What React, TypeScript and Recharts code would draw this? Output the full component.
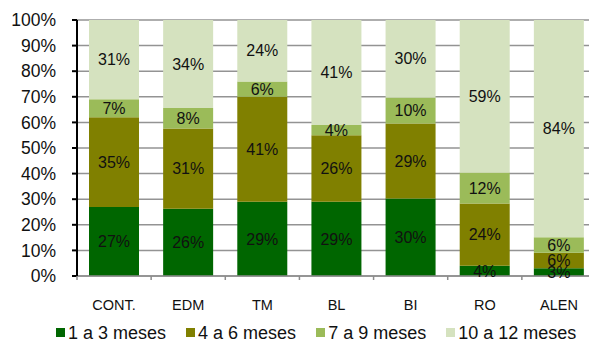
import React from "react"
import { BarChart, Bar, XAxis, YAxis, CartesianGrid, Legend, LabelList } from "recharts"

const categories = ["CONT.", "EDM", "TM", "BL", "BI", "RO", "ALEN"]
const meses1a3 = [27, 26, 29, 29, 30, 4, 3]
const meses4a6 = [35, 31, 41, 26, 29, 24, 6]
const meses7a9 = [7, 8, 6, 4, 10, 12, 6]
const meses10a12 = [31, 34, 24, 41, 30, 59, 84]
const yTicks = [0, 10, 20, 30, 40, 50, 60, 70, 80, 90, 100]

const series = [
  { key: "m1", name: "1 a 3 meses", color: "#006600", values: meses1a3 },
  { key: "m2", name: "4 a 6 meses", color: "#808000", values: meses4a6 },
  { key: "m3", name: "7 a 9 meses", color: "#9BBB59", values: meses7a9 },
  { key: "m4", name: "10 a 12 meses", color: "#D5E2BF", values: meses10a12 },
]

const data = categories.map((name, i) => {
  const row: Record<string, string | number> = { name }
  series.forEach((s) => (row[s.key] = s.values[i]))
  return row
})

const CHART_W = 600
const CHART_H = 343
const LEFT = 77
const RIGHT = 4
const STEP = (CHART_W - LEFT - RIGHT) / categories.length
const FONT = "'Liberation Sans', Arial, sans-serif"

function XTick(props: any) {
  const { x, y, payload } = props
  const bx = x - STEP / 2
  return (
    <g>
      <line x1={bx} x2={bx} y1={y} y2={y + 4} stroke="#8c8c8c" strokeWidth={1.5} />
      <text x={x} y={y + 34} textAnchor="middle" fontSize={14.5} fill="#111" fontFamily={FONT}>
        {payload.value}
      </text>
    </g>
  )
}

// legend drawn from our own series list so the order stays as in the source
function LegendContent() {
  return (
    <div style={{ height: 27, paddingTop: 6, boxSizing: "border-box", paddingLeft: 56, display: "flex", alignItems: "center", fontFamily: FONT, whiteSpace: "nowrap" }}>
      {series.map((s) => (
        <div key={s.key} style={{ display: "flex", alignItems: "center", marginRight: 20, flexShrink: 0 }}>
          <div style={{ width: 9, height: 9, background: s.color, marginRight: 3 }} />
          <span style={{ fontSize: 18, color: "#111", lineHeight: "20px" }}>{s.name}</span>
        </div>
      ))}
    </div>
  )
}

export default function App() {
  return (
    <div style={{ position: "absolute", left: 0, top: 0, width: 589, height: 343, overflow: "hidden", background: "#fff" }}>
      <BarChart
        width={CHART_W}
        height={CHART_H}
        data={data}
        stackOffset="expand"
        margin={{ top: 20, right: RIGHT, left: 0, bottom: 0 }}
        barSize={50}
      >
        <CartesianGrid vertical={false} stroke="#939393" strokeWidth={1.5} />
        <XAxis
          dataKey="name"
          height={40}
          tick={<XTick />}
          tickLine={false}
          tickSize={0}
          tickMargin={0}
          interval={0}
          axisLine={{ stroke: "#8c8c8c", strokeWidth: 1.5 }}
        />
        <YAxis
          width={LEFT}
          domain={[0, 1]}
          ticks={yTicks.map((t) => t / 100)}
          tickFormatter={(v: number) => `${Math.round(v * 100)}%`}
          tick={{ fontSize: 17.5, fill: "#111", fontFamily: FONT }}
          tickSize={5}
          tickMargin={16}
          tickLine={{ stroke: "#000", strokeWidth: 2 }}
          axisLine={{ stroke: "#000", strokeWidth: 2 }}
          interval={0}
        />
        <Legend verticalAlign="bottom" height={27} wrapperStyle={{ left: 0, width: CHART_W }} content={<LegendContent />} />
        {series.map((s) => (
          <Bar key={s.key} dataKey={s.key} name={s.name} stackId="a" fill={s.color} isAnimationActive={false}>
            <LabelList
              dataKey={s.key}
              position="center"
              formatter={(v: any) => `${v}%`}
              style={{ fontSize: 16, fill: "#111", fontFamily: FONT }}
            />
          </Bar>
        ))}
      </BarChart>
    </div>
  )
}
